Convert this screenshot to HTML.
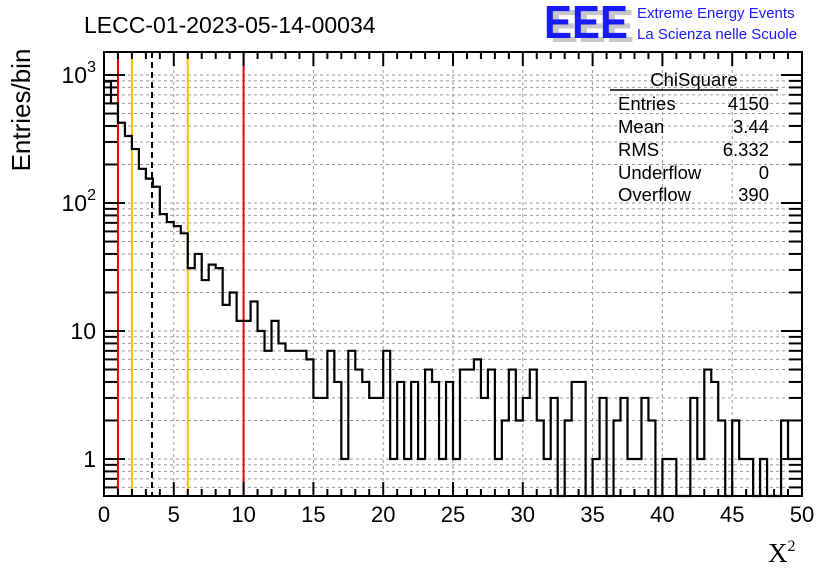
<!DOCTYPE html>
<html><head><meta charset="utf-8">
<style>
body{margin:0;background:#fff;}
svg{display:block;font-family:"Liberation Sans",sans-serif;}
</style></head>
<body>
<svg id="chart" width="836" height="572" viewBox="0 0 836 572">
  <rect x="0" y="0" width="836" height="572" fill="#fff"/>
  <text x="84" y="33" font-size="23" fill="#000">LECC-01-2023-05-14-00034</text>
  <g>
    <text x="550" y="42" font-size="46" font-weight="bold" fill="#c8c8c8" textLength="84" lengthAdjust="spacingAndGlyphs">EEE</text>
    <text x="544" y="38" font-size="46" font-weight="bold" fill="#1a1aff" textLength="84" lengthAdjust="spacingAndGlyphs">EEE</text>
    <text x="637" y="18" font-size="15" fill="#1a1aff">Extreme Energy Events</text>
    <text x="637" y="39" font-size="15" fill="#1a1aff">La Scienza nelle Scuole</text>
  </g>
  <g id="grid"></g>
  <g id="lines"></g>
  <g id="hist"></g>
  <rect x="104" y="52" width="698" height="444" fill="none" stroke="#000" stroke-width="2"/>
  <g id="ticks"></g>
  <g id="xlabels"></g>
  <g id="ylabels"></g>
  <text transform="translate(30,110) rotate(-90)" text-anchor="middle" font-size="26">Entries/bin</text>
  <text x="768" y="562" font-family="'Liberation Serif',serif" font-size="27">X<tspan dy="-11" font-size="16">2</tspan></text>
  <g font-size="18.5">
    <text x="694" y="86" text-anchor="middle">ChiSquare</text>
    <line x1="610" y1="90" x2="778" y2="90" stroke="#000" stroke-width="1.5"/>
    <text x="618" y="110">Entries</text><text x="769" y="110" text-anchor="end">4150</text>
    <text x="618" y="133">Mean</text><text x="769" y="133" text-anchor="end">3.44</text>
    <text x="618" y="156">RMS</text><text x="769" y="156" text-anchor="end">6.332</text>
    <text x="618" y="179">Underflow</text><text x="769" y="179" text-anchor="end">0</text>
    <text x="618" y="201">Overflow</text><text x="769" y="201" text-anchor="end">390</text>
  </g>
</svg>
<script>
const binEdges0 = 0, binWidth = 0.5;
const counts = [890,600,424,334,264,185,155,134,82,71,66,58,31,40,25,33,31,16,20,12,12,17,10,7,12,8,7,7,7,6,3,3,7,4,1,7,5,4,3,3,7,1,4,1,4,1,5,4,1,4,1,5,5,6,3,5,1,2,5,2,3,5,2,1,3,0,2,4,4,0,1,3,0,2,3,1,1,3,2,0,1,1,0,0,3,1,5,4,2,0,2,1,1,0,1,0,0,2,1,1];
const xTicks = [0,5,10,15,20,25,30,35,40,45,50];
const yMajor = [1,10,100,1000];
const yMajorLabels = ["1","10","10²","10³"];
const refLines = [{x:1,c:"#e00"},{x:2,c:"#f5c000"},{x:3.44,c:"#000",dash:true},{x:6,c:"#f5c000"},{x:10,c:"#e00"}];

const NS="http://www.w3.org/2000/svg";
const X0=104,X1=802,Y0=496,Y1=52;
const yMin=0.514, yMax=1513;
const sx=v=>X0+(v-0)/(50-0)*(X1-X0);
const sy=v=>{ if(v<=yMin) return Y0; return Y0-(Math.log10(v)-Math.log10(yMin))/(Math.log10(yMax)-Math.log10(yMin))*(Y0-Y1); };
function mk(tag,attrs,parent){const e=document.createElementNS(NS,tag);for(const k in attrs)e.setAttribute(k,attrs[k]);parent.appendChild(e);return e;}

const grid=document.getElementById('grid');
xTicks.forEach(t=>{ if(t>0&&t<50){const l=mk('line',{x1:sx(t),x2:sx(t),y1:Y1,y2:Y0,stroke:'#999','stroke-dasharray':'3,3'},grid);

}});
const ticks=document.getElementById('ticks');
for(let d=0.1;d<=1000;d*=10){for(let m=1;m<=9;m++){const v=Math.round(d*m*1000)/1000;if(v<yMin||v>yMax)continue;const y=sy(v);
 const g=mk('line',{x1:X0,x2:X1,y1:y,y2:y,stroke:'#999','stroke-dasharray':'3,3'},grid);
 
 
 const len=m===1?21:13;
 mk('line',{x1:X0,x2:X0+len,y1:y,y2:y,stroke:'#000','stroke-width':2},ticks);
 mk('line',{x1:X1,x2:X1-len,y1:y,y2:y,stroke:'#000','stroke-width':2},ticks);}}
for(let i=0;i<=50;i++){const x=sx(i);const len=i%5===0?14:7;
 mk('line',{x1:x,x2:x,y1:Y0,y2:Y0-len,stroke:'#000','stroke-width':2},ticks);
 mk('line',{x1:x,x2:x,y1:Y1,y2:Y1+len,stroke:'#000','stroke-width':2},ticks);}

const xl=document.getElementById('xlabels');
xTicks.forEach(t=>{const e=mk('text',{x:sx(t),y:522,'text-anchor':'middle','font-size':22},xl);e.textContent=t;

});
const yl=document.getElementById('ylabels');
yMajor.forEach((v,i)=>{const e=mk('text',{x:96,y:sy(v)+8,'text-anchor':'end','font-size':23},yl);
 const lab=yMajorLabels[i];
 if(lab.length>2){e.textContent=lab.slice(0,2);const ts=mk('tspan',{dy:-11,'font-size':16},e);ts.textContent=lab.slice(2)==='²'?'2':'3';}
 else e.textContent=lab;
 
 });

const lines=document.getElementById('lines');
refLines.forEach(r=>{const a={x1:sx(r.x),x2:sx(r.x),y1:Y1,y2:Y0,stroke:r.c,'stroke-width':2};if(r.dash)a['stroke-dasharray']='6,4';const l=mk('line',a,lines);

});

let d='';
counts.forEach((c,i)=>{const xa=sx(binEdges0+i*binWidth),xb=sx(binEdges0+(i+1)*binWidth),y=sy(c);
 d+=(i===0?`M${xa},${y}`:`L${xa},${y}`)+`L${xb},${y}`;});
const p=mk('path',{d:d,fill:'none',stroke:'#000','stroke-width':2.2},document.getElementById('hist'));


</script>
</body></html>
